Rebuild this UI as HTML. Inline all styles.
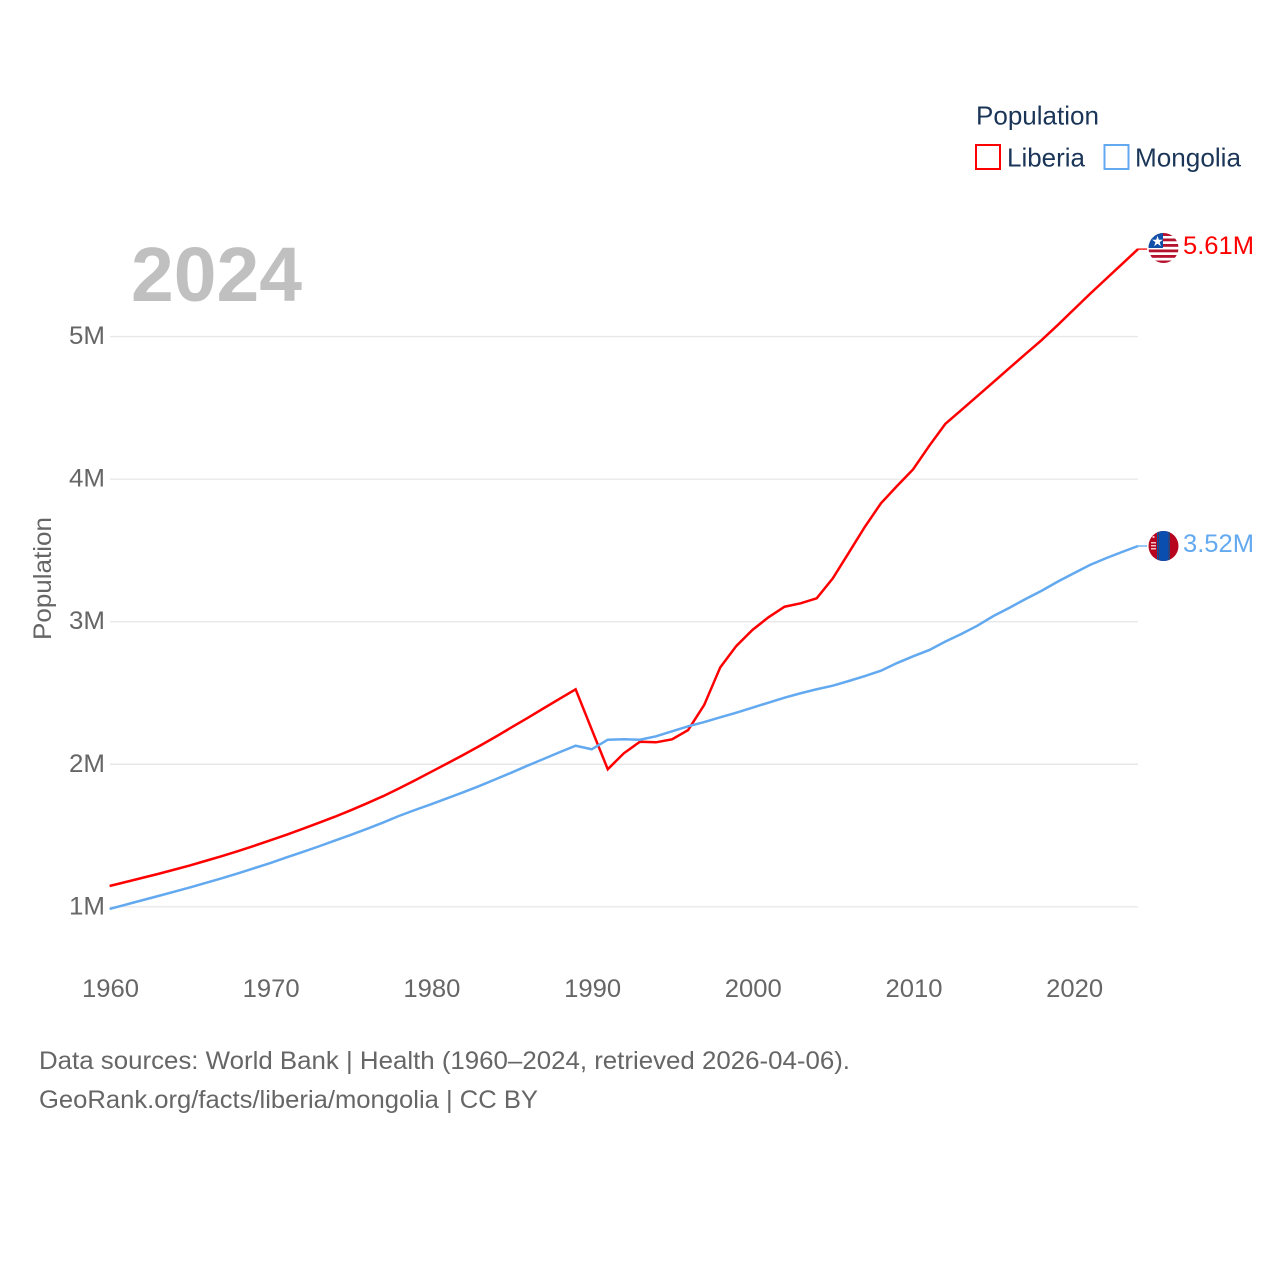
<!DOCTYPE html>
<html lang="en">
<head>
<meta charset="utf-8">
<title>Population: Liberia and Mongolia</title>
<style>
html,body{margin:0;padding:0;background:#fff;width:1280px;height:1280px;overflow:hidden}
svg{display:block}
text{font-family:"Liberation Sans",sans-serif}
</style>
</head>
<body>
<svg id="chart" xmlns="http://www.w3.org/2000/svg" width="1280" height="1280" viewBox="0 0 1280 1280">
  <defs>
    <clipPath id="clip-liberia"><circle cx="1163.5" cy="248" r="15"/></clipPath>
    <clipPath id="clip-mongolia"><circle cx="1163.5" cy="546" r="15"/></clipPath>
  </defs>
  <rect x="0" y="0" width="1280" height="1280" fill="#ffffff"/>

  <g id="grid"></g>
  <g id="yticks"></g>
  <g id="xticks"></g>

  <text x="131" y="301" font-size="77" font-weight="700" fill="#c0c0c0" textLength="171" lengthAdjust="spacingAndGlyphs">2024</text>
  <text transform="translate(51,640) rotate(-90)" x="0" y="0" font-size="25" fill="#666666" textLength="123" lengthAdjust="spacingAndGlyphs">Population</text>

  <g id="series"></g>

  <g clip-path="url(#clip-liberia)">
    <rect x="1148" y="233" width="31" height="31" fill="#ffffff"/>
    <rect x="1148" y="233" width="31" height="3" fill="#b5122e"/>
    <rect x="1148" y="238.5" width="31" height="2.8" fill="#b5122e"/>
    <rect x="1148" y="244" width="31" height="2.8" fill="#b5122e"/>
    <rect x="1148" y="249.5" width="31" height="2.8" fill="#b5122e"/>
    <rect x="1148" y="255" width="31" height="2.8" fill="#b5122e"/>
    <rect x="1148" y="260.5" width="31" height="3" fill="#b5122e"/>
    <rect x="1148" y="233" width="15" height="15" fill="#0f4fa8"/>
    <text x="1157.5" y="246" font-size="14" text-anchor="middle" fill="#ffffff">★</text>
  </g>
  <g clip-path="url(#clip-mongolia)">
    <rect x="1148" y="530" width="31" height="32" fill="#b8051f"/>
    <rect x="1157" y="530" width="13" height="32" fill="#0a4fb0"/>
    <rect x="1158" y="530" width="1" height="32" fill="#4a3a52"/>
    <rect x="1168.5" y="530" width="1" height="32" fill="#4a3a52"/>
    <rect x="1151" y="542" width="5" height="1.5" fill="#f3c0c6"/>
    <rect x="1151" y="545" width="5" height="1.5" fill="#f3c0c6"/>
    <rect x="1151" y="548" width="5" height="1.5" fill="#f3c0c6"/>
    <rect x="1152.5" y="536" width="2" height="2" fill="#f3c0c6"/>
  </g>

  <text id="label-liberia" x="1183" y="254" font-size="25" fill="#ff0000" textLength="71" lengthAdjust="spacingAndGlyphs">5.61M</text>
  <text id="label-mongolia" x="1183" y="552" font-size="25" fill="#63a9f0" textLength="71" lengthAdjust="spacingAndGlyphs">3.52M</text>

  <g>
    <text x="976" y="124.500" font-size="26" fill="#1a3557" textLength="123" lengthAdjust="spacingAndGlyphs">Population</text>
    <g>
      <rect x="976" y="145" width="24" height="24" fill="#ffffff" stroke="#ff0000" stroke-width="2"/>
      <text x="1007" y="166.500" font-size="26" fill="#1a3557" textLength="78" lengthAdjust="spacingAndGlyphs">Liberia</text>
    </g>
    <g>
      <rect x="1104.500" y="145" width="24" height="24" fill="#ffffff" stroke="#63a9f0" stroke-width="2"/>
      <text x="1135" y="166.500" font-size="26" fill="#1a3557" textLength="106" lengthAdjust="spacingAndGlyphs">Mongolia</text>
    </g>
  </g>

  <g>
    <text x="39" y="1069" font-size="25" fill="#666666" textLength="811" lengthAdjust="spacingAndGlyphs">Data sources: World Bank | Health (1960–2024, retrieved 2026-04-06).</text>
    <text x="39" y="1108" font-size="25" fill="#666666" textLength="499" lengthAdjust="spacingAndGlyphs">GeoRank.org/facts/liberia/mongolia | CC BY</text>
  </g>
</svg>

<script>
const firstYear = 1960;
const xTickYears = [1960, 1970, 1980, 1990, 2000, 2010, 2020];
const yTickValues = [1, 2, 3, 4, 5];
const yTickLabels = ['1M', '2M', '3M', '4M', '5M'];

// Population in millions, one value per year from 1960 to 2024
const liberiaValues = [
  1.146, 1.174, 1.202, 1.230, 1.260, 1.290, 1.323, 1.356, 1.391, 1.428,
  1.466, 1.505, 1.546, 1.588, 1.631, 1.677, 1.725, 1.775, 1.830, 1.887,
  1.946, 2.005, 2.065, 2.127, 2.191, 2.258, 2.324, 2.392, 2.459, 2.526,
  2.244, 1.965, 2.077, 2.158, 2.154, 2.175, 2.240, 2.416, 2.680, 2.830,
  2.942, 3.031, 3.105, 3.129, 3.164, 3.304, 3.484, 3.666, 3.831, 3.952,
  4.069, 4.233, 4.387, 4.485, 4.583, 4.681, 4.780, 4.878, 4.976, 5.081,
  5.190, 5.299, 5.404, 5.509, 5.614
];
const mongoliaValues = [
  0.985, 1.015, 1.045, 1.075, 1.105, 1.136, 1.168, 1.201, 1.235, 1.271,
  1.307, 1.346, 1.384, 1.423, 1.464, 1.504, 1.546, 1.590, 1.637, 1.679,
  1.719, 1.761, 1.803, 1.847, 1.894, 1.941, 1.990, 2.037, 2.084, 2.130,
  2.105, 2.172, 2.175, 2.172, 2.196, 2.231, 2.266, 2.296, 2.329, 2.362,
  2.397, 2.432, 2.467, 2.498, 2.526, 2.551, 2.584, 2.619, 2.656, 2.710,
  2.757, 2.801, 2.860, 2.914, 2.972, 3.040, 3.098, 3.159, 3.217, 3.281,
  3.340, 3.398, 3.445, 3.489, 3.531
];

const SVG_NS = 'http://www.w3.org/2000/svg';
const xAxis = function (year) { return 109.6 + (year - 1960) * 16.07; };
const yAxis = function (value) { return 906.8 - (value - 1) * 142.55; };

const gridGroup = document.getElementById('grid');
const yTickGroup = document.getElementById('yticks');
const xTickGroup = document.getElementById('xticks');
const seriesGroup = document.getElementById('series');

yTickValues.forEach(function (value, i) {
  const line = document.createElementNS(SVG_NS, 'line');
  
  
  line.setAttribute('x1', 110);
  line.setAttribute('x2', 1138);
  line.setAttribute('y1', yAxis(value));
  line.setAttribute('y2', yAxis(value));
  line.setAttribute('stroke', '#e8e8e8');
  line.setAttribute('stroke-width', '1.4');
  gridGroup.appendChild(line);

  const label = document.createElementNS(SVG_NS, 'text');
  
  
  label.setAttribute('x', 69);
  label.setAttribute('y', yAxis(value) + 7.5);
  label.setAttribute('font-size', '25');
  label.setAttribute('fill', '#666666');
  label.setAttribute('textLength', '36');
  label.setAttribute('lengthAdjust', 'spacingAndGlyphs');
  label.textContent = yTickLabels[i];
  yTickGroup.appendChild(label);
});

xTickYears.forEach(function (year) {
  const label = document.createElementNS(SVG_NS, 'text');
  
  
  label.setAttribute('x', xAxis(year) - 27.6);
  label.setAttribute('y', 997);
  label.setAttribute('font-size', '25');
  label.setAttribute('fill', '#666666');
  label.setAttribute('textLength', '57');
  label.setAttribute('lengthAdjust', 'spacingAndGlyphs');
  label.textContent = String(year);
  xTickGroup.appendChild(label);
});

function drawSeries(values, color, key) {
  const points = values.map(function (v, i) {
    return xAxis(firstYear + i).toFixed(2) + ',' + yAxis(v).toFixed(2);
  });

  const path = document.createElementNS(SVG_NS, 'polyline');
  
  
  path.setAttribute('points', points.join(' '));
  path.setAttribute('fill', 'none');
  path.setAttribute('stroke', color);
  path.setAttribute('stroke-width', '2.5');
  path.setAttribute('stroke-linejoin', 'miter');
  seriesGroup.appendChild(path);

  const lastY = yAxis(values[values.length - 1]);
  const lastX = xAxis(firstYear + values.length - 1);
  const connector = document.createElementNS(SVG_NS, 'line');
  
  
  connector.setAttribute('x1', lastX);
  connector.setAttribute('x2', lastX + 9);
  connector.setAttribute('y1', lastY);
  connector.setAttribute('y2', lastY);
  connector.setAttribute('stroke', color);
  connector.setAttribute('stroke-width', '1.3');
  seriesGroup.appendChild(connector);
}

drawSeries(liberiaValues, '#ff0000', 'liberia');
drawSeries(mongoliaValues, '#63a9f0', 'mongolia');
</script>
</body>
</html>
